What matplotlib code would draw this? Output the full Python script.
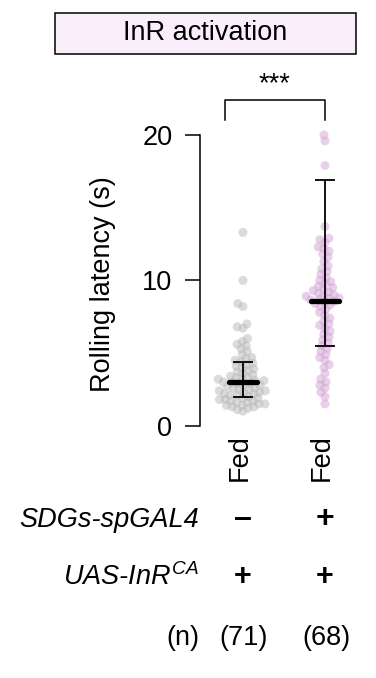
import numpy as np
import matplotlib
matplotlib.use("Agg")
import matplotlib.pyplot as plt
from matplotlib.patches import Rectangle

plt.rcParams['font.family'] = ['Liberation Sans', 'DejaVu Sans']
plt.rcParams['mathtext.fontset'] = 'custom'
plt.rcParams['mathtext.it'] = 'Liberation Sans:italic'
plt.rcParams['mathtext.rm'] = 'Liberation Sans'

# ---------------- data ----------------
title = "InR activation"
ylabel = "Rolling latency (s)"
xlabels = ["Fed", "Fed"]
row1_label = "SDGs-spGAL4"
row1_vals = ["–", "+"]
row2_vals = ["+", "+"]
n_counts = ["(71)", "(68)"]
sig_text = "***"

group1 = [13.3, 10.0, 8.4, 8.2, 7.0, 6.8, 6.7,
          6.0, 5.8, 5.6, 5.5, 5.3, 5.1,
          4.9, 4.7, 4.6, 4.5, 4.4,
          4.3, 4.2, 4.1, 4.0, 3.9, 3.8, 3.7, 3.6, 3.5, 3.4, 3.3, 3.3, 3.2, 3.2, 3.1, 3.1, 3.0,
          3.0,
          2.9, 2.9, 2.8, 2.8, 2.7, 2.6, 2.6, 2.5, 2.5, 2.4, 2.4, 2.3, 2.3, 2.2, 2.2, 2.1, 2.1, 2.0,
          1.9, 1.9, 1.8, 1.8, 1.7, 1.7, 1.6, 1.6, 1.5, 1.5, 1.4, 1.4, 1.3, 1.3, 1.2, 1.1, 1.0]
group2 = [20.0, 19.6, 17.9, 13.7, 12.9, 12.8, 12.6, 12.3, 12.2, 12.0, 11.8, 11.6, 11.3,
          11.0, 10.8, 10.6, 10.4, 10.2, 10.0, 9.9, 9.8, 9.6, 9.5, 9.4, 9.3, 9.2, 9.1, 9.0,
          8.95, 8.9, 8.8, 8.75, 8.7, 8.65,
          8.55, 8.5, 8.4, 8.3, 8.2, 8.0, 7.8, 7.6, 7.4, 7.2, 7.0, 6.9, 6.7, 6.5, 6.3, 6.1,
          5.9, 5.7, 5.5, 5.3, 5.1, 4.9, 4.7, 4.5, 4.2, 4.0, 3.6, 3.2, 3.0, 2.8, 2.6, 2.3,
          2.0, 1.5]
center_vals = [3.0, 8.6]
lower_vals = [2.0, 5.45]
upper_vals = [4.35, 16.9]
point_colors = ["#b8b8b8", "#d3a3d6"]

# ---------------- figure ----------------
W, H = 376, 678
fig = plt.figure(figsize=(W / 100, H / 100), dpi=100)

def fx(px):
    return px / W

def fy(py):
    return 1 - py / H

ax_l, ax_r, ax_t, ax_b = 200, 370, 135, 425.7
ax = fig.add_axes([fx(ax_l), fy(ax_b), (ax_r - ax_l) / W, (ax_b - ax_t) / H])
xpos = [0, 1]
ax.set_xlim(-0.524, 1.549)
ax.set_ylim(0, 20)
px_per_x = 82.0
px_per_y = (ax_b - ax_t) / 20.0

def swarm(vals, d):
    vals = np.asarray(vals, float)
    ys = vals * px_per_y
    order = np.argsort(ys)
    xs = np.zeros(len(vals))
    placed = []
    for i in order:
        y = ys[i]
        cands = [0.0]
        near = [(px, py) for px, py in placed if abs(py - y) < d]
        for px, py in near:
            dx = np.sqrt(d * d - (py - y) ** 2)
            cands += [px + dx, px - dx]
        cands = sorted(cands, key=lambda c: (abs(c), c))
        for c in cands:
            ok = all((c - px) ** 2 + (y - py) ** 2 >= d * d - 1e-6 for px, py in near)
            if ok:
                xs[i] = c
                break
        placed.append((xs[i], y))
    return xs / px_per_x

for gx, vals, col in zip(xpos, [group1, group2], point_colors):
    offs = swarm(vals, 5.9)
    ax.scatter(gx + offs, vals, s=42, color=col, alpha=0.5, edgecolor='none',
               clip_on=False, zorder=2)

for gx, c, lo, hi in zip(xpos, center_vals, lower_vals, upper_vals):
    ax.plot([gx, gx], [lo, hi], color='black', lw=1.3, zorder=3, solid_capstyle='butt')
    for v in (lo, hi):
        ax.plot([gx - 0.12, gx + 0.12], [v, v], color='black', lw=1.3, zorder=3,
                solid_capstyle='butt')
    ax.plot([gx - 0.175, gx + 0.175], [c, c], color='black', lw=3.8, zorder=4,
            solid_capstyle='round')

for s in ['top', 'right', 'bottom']:
    ax.spines[s].set_visible(False)
ax.spines['left'].set_bounds(0, 20)
ax.spines['left'].set_linewidth(1.1)
ax.set_yticks([0, 10, 20])
ax.tick_params(axis='y', length=10.8, width=1.1, pad=9, labelsize=19.5)
ax.set_xticks([])
ax.patch.set_visible(False)

# y label
fig.text(fx(103), fy(284), ylabel, rotation=90, ha='center', va='center', fontsize=19.5)

# x labels (rotated)
for gx, lab in zip(xpos, xlabels):
    px = ax_l + (gx + 0.524) * px_per_x - 3
    fig.text(fx(px), fy(434), lab, rotation=90, ha='center', va='top', fontsize=19.5)

# title box
fig.add_artist(Rectangle((fx(55), fy(54)), (356 - 55) / W, (54 - 13) / H,
                         transform=fig.transFigure, facecolor='#f9eef9',
                         edgecolor='black', lw=1.1))
fig.text(fx(205.5), fy(33.5), title, ha='center', va='center', fontsize=19.5)

# significance bracket
y_top = (ax_b - 100) / px_per_y
y_bot = (ax_b - 120) / px_per_y
bx0, bx1 = -0.22, 1.0
ax.plot([bx0, bx0, bx1, bx1], [y_bot, y_top, y_top, y_bot], color='black', lw=1.1,
        clip_on=False)
ax.text(0.39, (ax_b - 97) / px_per_y, sig_text, ha='center', va='bottom', fontsize=19.5,
        clip_on=False)

# genotype rows
fig.text(fx(199), fy(520), row1_label, ha='right', va='center', fontsize=19.5,
         style='italic')
fig.text(fx(199), fy(577), r"UAS-$\mathit{InR}^{\mathit{CA}}$", ha='right', va='center',
         fontsize=19.5, style='italic')
fig.text(fx(199), fy(638), "(n)", ha='right', va='center', fontsize=19.5)
for gx, v1, v2, n in zip(xpos, row1_vals, row2_vals, n_counts):
    px = ax_l + (gx + 0.524) * px_per_x
    fig.text(fx(px), fy(519), v1, ha='center', va='center', fontsize=23, fontweight='bold')
    fig.text(fx(px), fy(577), v2, ha='center', va='center', fontsize=22, fontweight='bold')
    fig.text(fx(px + 1), fy(638), n, ha='center', va='center', fontsize=19.5)

fig.savefig("out.png", dpi=100)
